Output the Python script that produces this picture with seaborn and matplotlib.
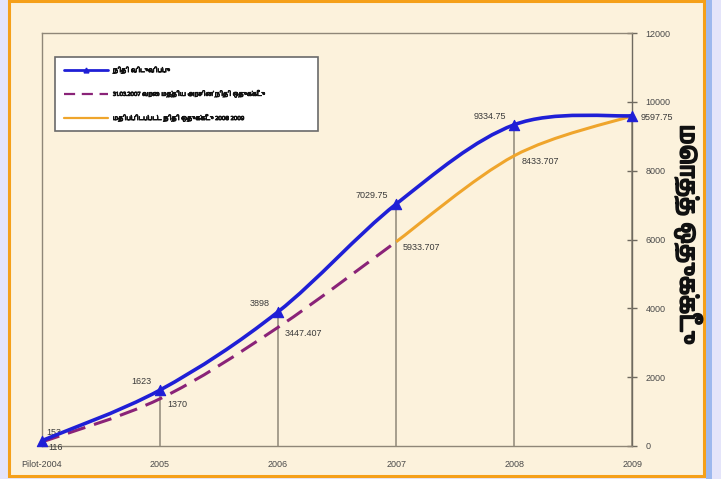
import numpy as np
import matplotlib.pyplot as plt
import matplotlib.patheffects as pe
import seaborn as sns
from matplotlib import font_manager
from matplotlib.path import Path
from matplotlib.patches import PathPatch, Rectangle
from matplotlib.lines import Line2D

# ── data ────────────────────────────────────────────────────────────
years = ['Pilot-2004', '2005', '2006', '2007', '2008', '2009']

released = [153, 1623, 3898, 7029.75, 9334.75, 9597.75]
released_lbl = ['153', '1623', '3898', '7029.75', '9334.75', '9597.75']

alloc_years = ['Pilot-2004', '2005', '2006', '2007']
alloc = [116, 1370, 3447.407, 5933.707]
alloc_lbl = ['116', '1370', '3447.407', '5933.707']

est_years = ['2007', '2008', '2009']
est = [5933.707, 8433.707, 9597.75]
est_lbl = ['', '8433.707', '']

leg_labels = ['நிதி விடுவிப்பு',
              '31.03.2007 வரை மத்திய அரசின் நிதி ஒதுக்கீடு',
              'மதிப்பிடப்பட்ட நிதி ஒதுக்கீடு 2008 2009']
y_title = 'மொத்த ஒதுக்கீடு'
y_ticks = [0, 2000, 4000, 6000, 8000, 10000, 12000]

# ── style ───────────────────────────────────────────────────────────
sns.set_style('white')
tamil = [f.name for f in font_manager.fontManager.ttflist if 'Tamil' in f.name]
fams = tamil[:1] + ['DejaVu Sans']
plt.rcParams['font.family'] = fams

BLUE = '#1f1fd6'
PURPLE = '#8a2378'
ORANGE = '#efa52c'
GREY = '#8f8778'
CREAM = '#fcf2dc'


def smooth_path(xs, ys):
    # Catmull-Rom style smoothing (like Excel's smoothed line) as bezier path
    pts = np.column_stack([xs, ys]).astype(float)
    ext = np.vstack([pts[0], pts, pts[-1]])
    verts, codes = [pts[0]], [Path.MOVETO]
    for i in range(len(pts) - 1):
        p0, p1, p2, p3 = ext[i], ext[i + 1], ext[i + 2], ext[i + 3]
        verts += [p1 + (p2 - p0) / 6, p2 - (p3 - p1) / 6, p2]
        codes += [Path.CURVE4] * 3
    return Path(verts, codes)


fig = plt.figure(figsize=(7.21, 4.79), dpi=100, facecolor='#e4e4fa')
fig.patches.append(Rectangle((0.012, 0.006), 0.964, 0.992, transform=fig.transFigure,
                             facecolor=CREAM, edgecolor='#f5a019', linewidth=2.2,
                             zorder=-5))
fig.patches.append(Rectangle((0.979, 0.0), 0.008, 1.0, transform=fig.transFigure,
                             facecolor='#9db8ee', edgecolor='none', zorder=-5))

ax = fig.add_axes([0.058, 0.069, 0.819, 0.862])
ax.set_facecolor(CREAM)

xpos = {y: i for i, y in enumerate(years)}
x_rel = [xpos[y] for y in years]
x_all = [xpos[y] for y in alloc_years]
x_est = [xpos[y] for y in est_years]

# drop lines from each point to the axis
ax.vlines(x_rel[1:], 0, released[1:], color=GREY, linewidth=1.1, zorder=1)

ax.add_patch(PathPatch(smooth_path(x_all, alloc), facecolor='none', edgecolor=PURPLE,
                       linewidth=2.2, linestyle=(0, (6, 3)), zorder=3))
ax.add_patch(PathPatch(smooth_path(x_est, est), facecolor='none', edgecolor=ORANGE,
                       linewidth=2.2, zorder=3))
ax.add_patch(PathPatch(smooth_path(x_rel, released), facecolor='none', edgecolor=BLUE,
                       linewidth=2.6, zorder=4))
sns.scatterplot(x=x_rel, y=released, marker='^', s=55, color=BLUE, edgecolor=BLUE,
                linewidth=0.8, ax=ax, zorder=5, clip_on=False)

# value labels
tk = dict(fontsize=6.5, color='#3a3a3a', family=['Liberation Sans', 'DejaVu Sans'])
for i, (x, v, t) in enumerate(zip(x_rel, released, released_lbl)):
    if i == 0:
        ax.annotate(t, (x, v), xytext=(3, 3), textcoords='offset points',
                    ha='left', va='bottom', **tk)
    elif i == len(x_rel) - 1:
        ax.annotate(t, (x, v), xytext=(6, -1), textcoords='offset points',
                    ha='left', va='center', annotation_clip=False, **tk)
    else:
        ax.annotate(t, (x, v), xytext=(-6, 3), textcoords='offset points',
                    ha='right', va='bottom', **tk)
for x, v, t in list(zip(x_all, alloc, alloc_lbl)) + list(zip(x_est, est, est_lbl)):
    if t:
        ax.annotate(t, (x, v), xytext=(5, -1), textcoords='offset points',
                    ha='left', va='top', **tk)

# axes
ax.set_xlim(0, 5)
ax.set_ylim(0, 12000)
ax.set_xticks(range(len(years)))
ax.set_xticklabels(years)
ax.set_yticks(y_ticks)
ax.yaxis.tick_right()
for sp in ax.spines.values():
    sp.set_color(GREY)
    sp.set_linewidth(1.0)
ax.spines['right'].set_color('#6f6a60')
ax.tick_params(axis='y', direction='inout', length=7, width=1, color='#6f6a60',
               labelsize=6.5, labelcolor='#4a4a4a', pad=6)
ax.tick_params(axis='x', direction='inout', length=4, width=1, color='#6f6a60',
               labelsize=6.5, labelcolor='#4a4a4a', pad=8)
for lab in ax.get_xticklabels() + ax.get_yticklabels():
    lab.set_family(['Liberation Sans', 'DejaVu Sans'])

# legend
handles = [Line2D([], [], color=BLUE, linewidth=2, marker='^', markersize=3.5),
           Line2D([], [], color=PURPLE, linewidth=1.6, linestyle=(0, (5, 3))),
           Line2D([], [], color=ORANGE, linewidth=1.6)]
leg = ax.legend(handles, leg_labels, loc='upper left',
                bbox_to_anchor=(0.022, 0.77, 0.446, 0.172), mode='expand',
                frameon=True, fancybox=False, handlelength=7, handletextpad=0.8,
                labelspacing=2.6, borderpad=1.5, borderaxespad=0,
                prop={'size': 4.5, 'weight': 'bold', 'family': fams})
leg.get_frame().set_edgecolor('#6a6a6a')
leg.get_frame().set_linewidth(1.2)
leg.get_frame().set_facecolor('white')
leg.get_frame().set_alpha(1)
for t in leg.get_texts():
    t.set_color('#111111')
    t.set_path_effects([pe.withStroke(linewidth=0.5, foreground='#111111')])

fig.text(0.955, 0.51, y_title, rotation=270, ha='center', va='center',
         fontsize=17, color='#111111', family=fams,
         path_effects=[pe.withStroke(linewidth=1.3, foreground='#111111')])

fig.savefig('out.png', dpi=100, facecolor=fig.get_facecolor())
